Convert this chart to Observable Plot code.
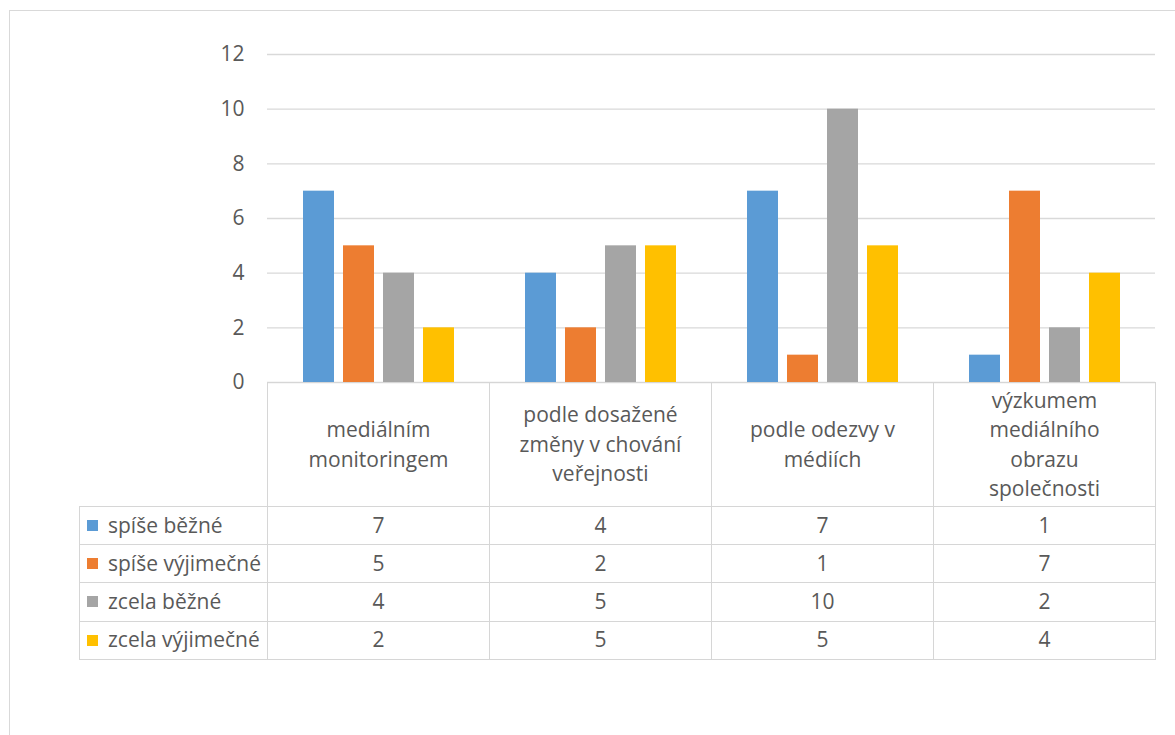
<!DOCTYPE html>
<html>
<head>
<meta charset="utf-8">
<script src="https://cdn.jsdelivr.net/npm/d3@7"></script>
<script src="https://cdn.jsdelivr.net/npm/@observablehq/plot@0.6"></script>
<style>
  html, body { margin: 0; padding: 0; background: #fff; overflow: hidden; }
  #chart { position: relative; width: 1175px; height: 735px; font-family: "Open Sans", sans-serif; color: #595959; overflow: hidden; }
  #frame { position: absolute; left: 9px; top: 10px; width: 1200px; height: 760px; border: 1px solid #d9d9d9; box-sizing: border-box; }
  #plot { position: absolute; left: 0; top: 0; }
  .cell { position: absolute; box-sizing: border-box; border: 1px solid #d6d6d6; display: flex; align-items: center; justify-content: center; text-align: center; font-size: 21px; line-height: 29.5px; white-space: pre-line; }
  .rowhead { justify-content: flex-start; padding-left: 7px; white-space: nowrap; }
  .key { display: inline-block; width: 11px; height: 11px; margin-right: 10px; flex: none; }
</style>
</head>
<body>
<div id="chart">
  <div id="frame"></div>
  <div id="plot"></div>
</div>
<script>
// Categories (line breaks as shown in the table header)
const categories = [
  "mediálním\nmonitoringem",
  "podle dosažené\nzměny v chování\nveřejnosti",
  "podle odezvy v\nmédiích",
  "výzkumem\nmediálního\nobrazu\nspolečnosti"
];
const series = ["spíše běžné", "spíše výjimečné", "zcela běžné", "zcela výjimečné"];
const colors = ["#5b9bd5", "#ed7d31", "#a5a5a5", "#ffc000"];

// Values per series, in category order
const spiseBezne = [7, 4, 7, 1];
const spiseVyjimecne = [5, 2, 1, 7];
const zcelaBezne = [4, 5, 10, 2];
const zcelaVyjimecne = [2, 5, 5, 4];
const yTicks = [0, 2, 4, 6, 8, 10, 12];

const seriesValues = [spiseBezne, spiseVyjimecne, zcelaBezne, zcelaVyjimecne];
const rows = [];
series.forEach((s, i) => categories.forEach((c, j) => rows.push({category: c, series: s, value: seriesValues[i][j]})));

// Layout
const W = 1175, H = 383;
const mL = 267, mR = 20, mT = 54, mB = 1;

const chart = Plot.plot({
  width: W,
  height: H,
  marginLeft: mL,
  marginRight: mR,
  marginTop: mT,
  marginBottom: mB,
  style: {fontFamily: "Open Sans, sans-serif", fontSize: "21px", color: "#595959", background: "transparent", overflow: "visible"},
  fx: {domain: categories, padding: 0, axis: null},
  x: {domain: series, paddingInner: 0.225, paddingOuter: 0.8875, axis: null},
  y: {domain: [0, 12], axis: null},
  color: {domain: series, range: colors},
  marks: [
    Plot.ruleY(yTicks, {y: d => d, stroke: "#d9d9d9", strokeWidth: 1.3}),
    Plot.axisY({ticks: yTicks, tickSize: 0, tickPadding: 23, fontSize: 21, fill: "#595959", label: null}),
    Plot.barY(rows, {fx: "category", x: "series", y: "value", fill: "series"})
  ]
});
document.getElementById("plot").appendChild(chart);

// Data table below the plot, aligned with the facet columns
const colW = (W - mL - mR) / categories.length;
const xs = [79, ...d3.range(categories.length + 1).map(i => mL + i * colW)];
const headerTop = H - mB, headerH = 124, rowH = 38.2;
const chartDiv = d3.select("#chart");

function cell(x0, x1, y0, h, cls) {
  return chartDiv.append("div").attr("class", "cell " + (cls || ""))
    .style("left", x0 + "px").style("top", y0 + "px")
    .style("width", (x1 - x0 + 1) + "px").style("height", (h + 1) + "px");
}

categories.forEach((c, j) => {
  cell(xs[j + 1], xs[j + 2], headerTop, headerH).text(c);
});
series.forEach((s, i) => {
  const y0 = headerTop + headerH + i * rowH;
  const head = cell(xs[0], xs[1], y0, rowH, "rowhead");
  head.append("span").attr("class", "key").style("background", colors[i]);
  head.append("span").text(s);
  categories.forEach((c, j) => {
    cell(xs[j + 1], xs[j + 2], y0, rowH).text(seriesValues[i][j]);
  });
});
</script>
</body>
</html>
